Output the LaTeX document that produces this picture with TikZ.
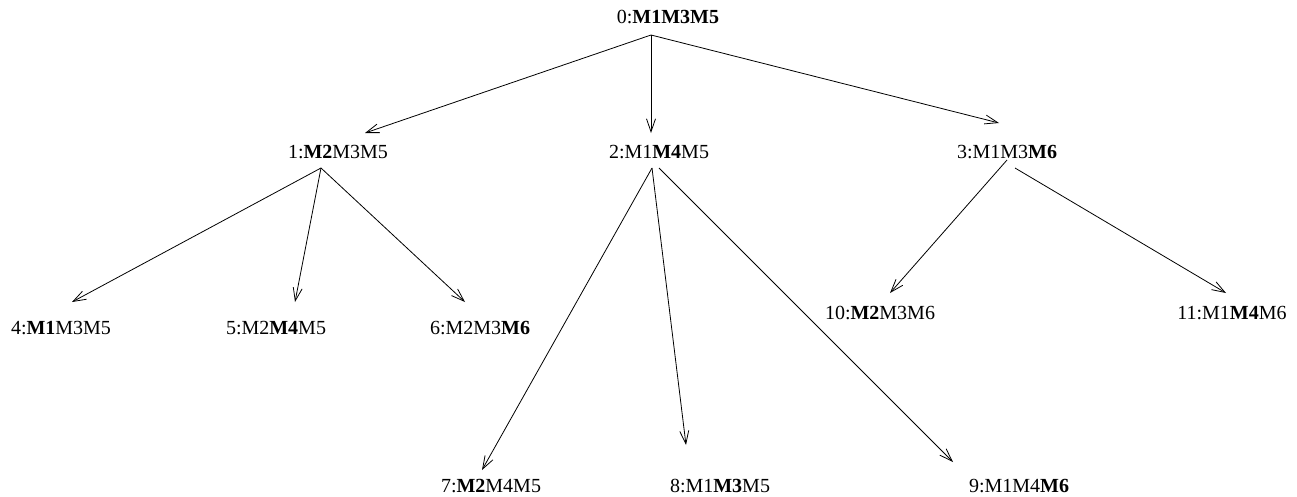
\documentclass[tikz,border=0pt]{standalone}
\usepackage{fontspec}
\setmainfont{Liberation Serif}
\usetikzlibrary{arrows.meta}
\begin{document}
\begin{tikzpicture}[x=1pt,y=-1pt,
  state/.style={inner sep=0pt,anchor=base,font=\fontsize{20}{24}\selectfont},
  link/.style={line width=0.8pt,-{Straight Barb[length=13pt,width=9pt,line width=0.8pt]}}]
\useasboundingbox (0,0) rectangle (1297,496);

% search tree states
\node[state] (n0)  at (668,23)  {0:\textbf{M1M3M5}};
\node[state] (n1)  at (338,158) {1:\textbf{M2}M3M5};
\node[state] (n2)  at (659,158) {2:M1\textbf{M4}M5};
\node[state] (n3)  at (1007,158) {3:M1M3\textbf{M6}};
\node[state] (n4)  at (61,334)  {4:\textbf{M1}M3M5};
\node[state] (n5)  at (276,334) {5:M2\textbf{M4}M5};
\node[state] (n6)  at (480,334) {6:M2M3\textbf{M6}};
\node[state] (n7)  at (491,492) {7:\textbf{M2}M4M5};
\node[state] (n8)  at (720,492) {8:M1\textbf{M3}M5};
\node[state] (n9)  at (1019,492) {9:M1M4\textbf{M6}};
\node[state] (n10) at (880,319) {10:\textbf{M2}M3M6};
\node[state] (n11) at (1232,319) {11:M1\textbf{M4}M6};

% where the edges leave a parent and where they stop above a child
\coordinate (n0-out)  at (651,35);
\coordinate (n1-out)  at (321,168);
\coordinate (n2-outa) at (652,168);
\coordinate (n2-outb) at (659,168);
\coordinate (n3-outa) at (1007,160);
\coordinate (n3-outb) at (1015,168);
\coordinate (n1-in)  at (365,133);
\coordinate (n2-in)  at (651,133);
\coordinate (n3-in)  at (999,123);
\coordinate (n4-in)  at (72,302);
\coordinate (n5-in)  at (295,302);
\coordinate (n6-in)  at (465,302);
\coordinate (n7-in)  at (482,470);
\coordinate (n8-in)  at (686,445);
\coordinate (n9-in)  at (953,462);
\coordinate (n10-in) at (890,293);
\coordinate (n11-in) at (1226,293);

\draw[link] (n0-out) -- (n1-in);
\draw[link] (n0-out) -- (n2-in);
\draw[link] (n0-out) -- (n3-in);
\draw[link] (n1-out) -- (n4-in);
\draw[link] (n1-out) -- (n5-in);
\draw[link] (n1-out) -- (n6-in);
\draw[link] (n2-outa) -- (n7-in);
\draw[link] (n2-outa) -- (n8-in);
\draw[link] (n2-outb) -- (n9-in);
\draw[link] (n3-outa) -- (n10-in);
\draw[link] (n3-outb) -- (n11-in);
\end{tikzpicture}
\end{document}
